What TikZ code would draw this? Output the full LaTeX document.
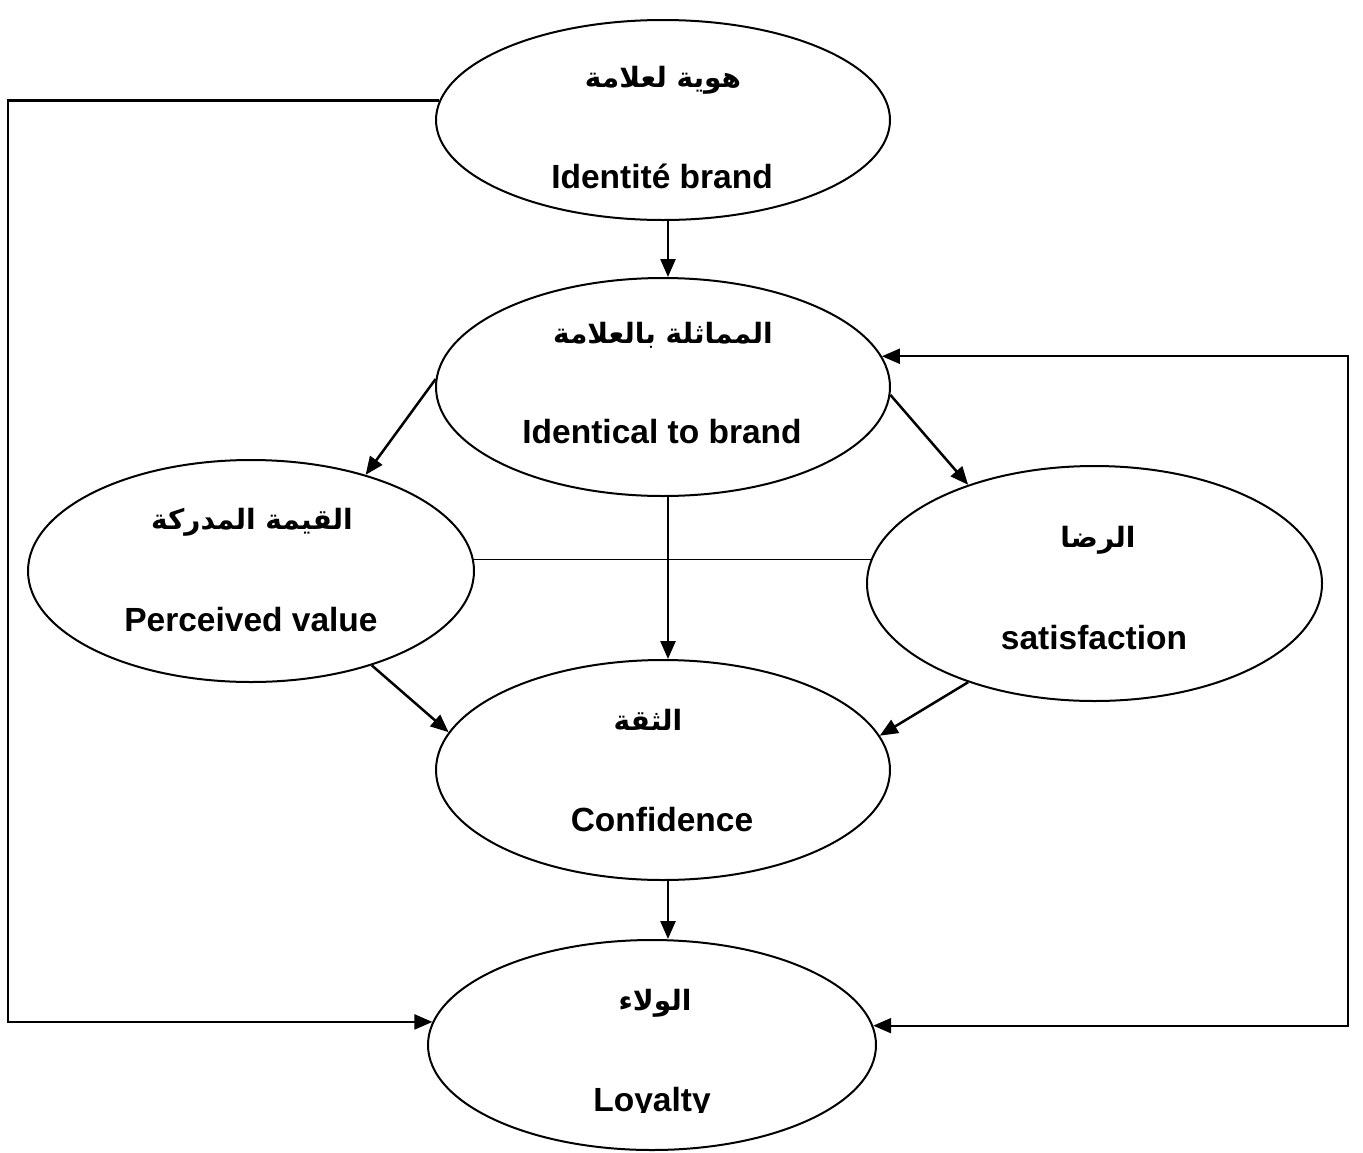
\documentclass[tikz,border=0pt]{standalone}
\usepackage{fontspec}
\setmainfont{Liberation Sans}
\newfontfamily\arabicfont[Script=Arabic]{DejaVu Sans}
\TeXXeTstate=1
\usetikzlibrary{shapes.geometric,arrows.meta}
\begin{document}
\begin{tikzpicture}[x=1pt,y=-1pt,
  >={Triangle[length=18pt,width=15pt]},
  oval/.style={ellipse,draw,line width=2pt,inner sep=0pt},
  en/.style={font=\fontsize{33.5}{33.5}\selectfont\bfseries,anchor=base,inner sep=0pt},
  ar/.style={font=\arabicfont\fontsize{28}{28}\selectfont\bfseries,inner sep=0pt},
  arr/.style={line width=2.5pt,->},
  loopline/.style={line width=2.2pt},
  thinline/.style={line width=1.5pt}]
\useasboundingbox (0,0) rectangle (1363,1152);

% ellipses
\node[oval,minimum width=454pt,minimum height=200pt] (A) at (663,120) {};
\node[oval,minimum width=454pt,minimum height=218pt] (B) at (663,387) {};
\node[oval,minimum width=446pt,minimum height=222pt] (C) at (251,571) {};
\node[oval,minimum width=455pt,minimum height=235pt] (D) at (1094.5,583.5) {};
\node[oval,minimum width=454pt,minimum height=220pt] (E) at (663,770) {};
\node[oval,minimum width=448pt,minimum height=210pt] (F) at (652,1045) {};

% labels
\node[ar] (ta) at (663,80) {\beginR هوية لعلامة\endR};
\node[en] (tae) at (662,188) {Identité brand};
\node[ar] (tb) at (663,335) {\beginR المماثلة بالعلامة\endR};
\node[en] (tbe) at (662,443) {Identical to brand};
\node[ar] (tc) at (252,522) {\beginR القيمة المدركة\endR};
\node[en] (tce) at (251,631) {Perceived value};
\node[ar] (td) at (1098,540) {\beginR الرضا\endR};
\node[en] (tde) at (1094,649) {satisfaction};
\node[ar] (te) at (648,720) {\beginR الثقة\endR};
\node[en] (tee) at (662,831) {Confidence};
\node[ar] (tf) at (655,1003) {\beginR الولاء\endR};
\begin{scope}
  \clip (400,1040) rectangle (900,1112);
  \node[en] (tfe) at (652,1111) {Loyalty};
\end{scope}

% connectors
\draw[arr] ([xshift=5pt]A.south) -- ([xshift=5pt]B.north);
\draw[arr] (B.178) -- (C.40);
\draw[arr] (B.-2) -- (D.142);
\draw[arr] ([xshift=5pt]B.south) -- ([xshift=5pt]E.north);
\draw[thinline] (C.3.6) -- (C.3.6 -| D.173.2);
\draw[arr] (C.-38) -- (E.170);
\draw[arr] (D.218.25) -- (E.9.8);
\draw[arr] ([xshift=5pt]E.south) -- ([xshift=5pt]E.south |- F.north);

\coordinate (lc) at (8,560);
\coordinate (rc) at (1348,700);
\draw[loopline,->] (A.175.4) -| (lc) |- (F.174.3);
\draw[loopline,<->] (B.8.4) -| (rc) |- (F.5.7);
\end{tikzpicture}
\end{document}
